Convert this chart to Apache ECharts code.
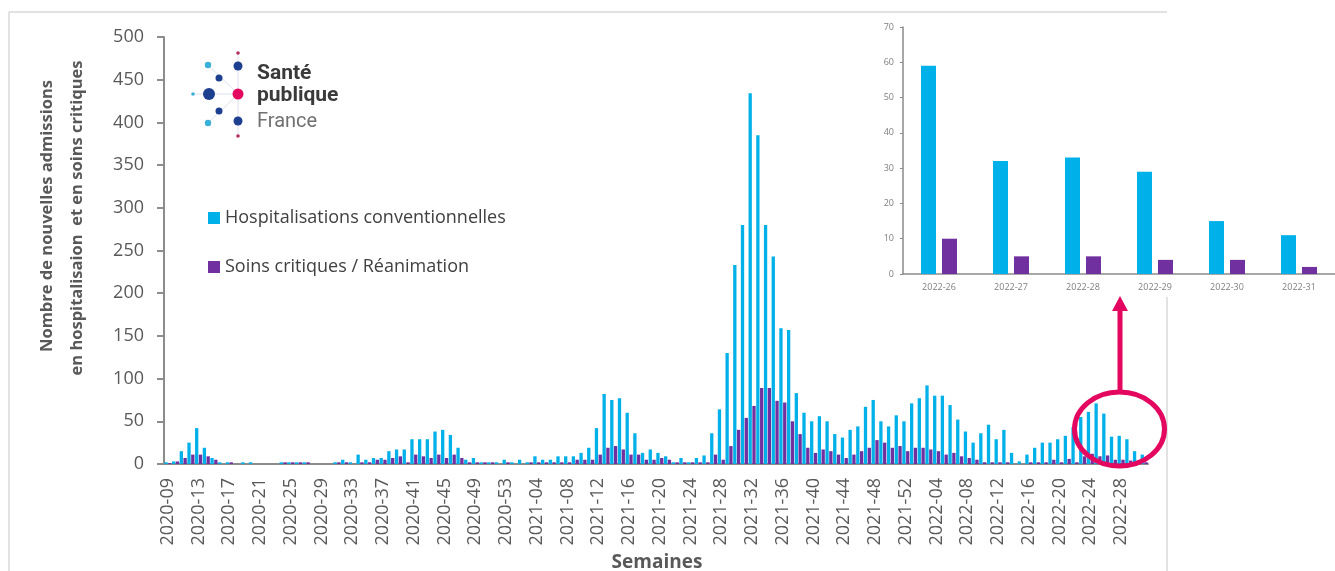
<!DOCTYPE html>
<html>
<head>
<meta charset="utf-8">
<script src="https://cdn.jsdelivr.net/npm/echarts@6/dist/echarts.min.js"></script>
<style>
html,body{margin:0;padding:0;background:#fff;}
#chart{width:1335px;height:571px;}
</style>
</head>
<body>
<div id="chart"></div>
<script>
// ---- categories (weeks 2020-09 .. 2022-31)
function pad(n){return n<10?'0'+n:''+n;}
const categories = [];
for (let w = 9; w <= 53; w++) categories.push('2020-' + pad(w));
for (let w = 1; w <= 52; w++) categories.push('2021-' + pad(w));
for (let w = 1; w <= 31; w++) categories.push('2022-' + pad(w));

// ---- series values
const hospConv = [
  2,3,15,25,42,19,7,2,2,0,
  2,2,0,0,0,2,2,2,2,0,
  0,0,2,5,2,11,5,7,7,15,
  17,17,29,29,29,38,40,34,19,5,
  7,2,2,2,5,2,5,2,9,5,
  5,9,9,9,13,19,42,82,75,77,
  60,36,13,17,13,9,2,7,2,7,
  10,36,64,130,233,280,434,385,280,243,
  159,157,83,60,50,56,50,35,31,40,
  44,67,75,50,44,57,50,71,77,92,
  80,80,69,52,38,25,36,46,29,40,
  13,3,11,19,25,25,29,33,43,55,
  61,71,59,32,33,29,15,11
];
const soinsCrit = [
  1,3,7,11,11,9,5,0,2,0,
  0,0,0,0,0,2,2,2,2,0,
  0,0,2,2,0,2,2,5,5,7,
  9,2,11,9,7,11,7,11,7,2,
  2,2,2,0,2,0,0,2,2,2,
  2,2,2,5,5,5,11,19,21,17,
  11,11,5,5,7,5,2,2,2,2,
  2,11,5,21,40,54,68,89,89,74,
  72,50,35,19,13,17,15,11,7,11,
  15,19,28,25,19,21,15,19,19,17,
  15,11,13,9,7,5,2,2,2,2,
  0,0,2,2,2,5,2,6,2,9,
  12,9,10,5,5,4,4,2
];
const mainYTicks = {min: 0, max: 500, interval: 50};
const insetYTicks = {min: 0, max: 70, interval: 10};
const insetCount = 6;
const insetCats = categories.slice(-insetCount);
const insetHosp = hospConv.slice(-insetCount);
const insetCrit = soinsCrit.slice(-insetCount);

const nameHosp = 'Hospitalisations conventionnelles';
const nameCrit = 'Soins critiques / Réanimation';
const BLUE = '#00b0e8';
const PURPLE = '#7030a0';
const AXIS = '#8c8c8c';
const TXT = '#595959';
const PINK = '#e3075f';
const NAVY = '#1d3f8f';
const LBLUE = '#3ab0d8';

const chart = echarts.init(document.getElementById('chart'), null, {renderer: 'canvas'});

function dot(cx, cy, r, color){
  return {type:'circle', shape:{cx:cx, cy:cy, r:r}, style:{fill:color}, z:10, silent:true};
}
function seg(x1,y1,x2,y2,color,w){
  return {type:'line', shape:{x1:x1,y1:y1,x2:x2,y2:y2}, style:{stroke:color, lineWidth:w}, z:9, silent:true};
}

const graphics = [
  // outer frame
  seg(9, 12, 1167, 12, '#d9d9d9', 1.5),
  seg(9, 12, 9, 571, '#d9d9d9', 1.5),
  seg(1167, 297, 1167, 571, '#d9d9d9', 1.5),
  // logo connecting lines
  seg(193, 94, 238, 94, '#d3d9e8', 0.8),
  seg(238, 53, 238, 136, '#d3d9e8', 0.8),
  seg(208, 65, 238, 94, '#d3d9e8', 0.8),
  seg(208, 123, 238, 94, '#d3d9e8', 0.8),
  // logo dots
  dot(238, 53, 1.8, '#b03060'),
  dot(208, 65, 3.2, LBLUE),
  dot(238, 66, 4.5, NAVY),
  dot(219, 78, 3.5, NAVY),
  dot(193, 94, 1.8, LBLUE),
  dot(209, 94, 6, NAVY),
  dot(238, 94, 5.5, PINK),
  dot(219, 111, 3.5, NAVY),
  dot(208, 123, 3.2, LBLUE),
  dot(238, 121, 4.5, NAVY),
  dot(238, 136, 1.8, '#b03060'),
  // logo text
  {type:'text', x:257, y:74, z:10, silent:true,
   style:{text:'Santé', font:'bold 21px Roboto', fill:'#3a3a3a', align:'left', verticalAlign:'middle'}},
  {type:'text', x:257, y:96, z:10, silent:true,
   style:{text:'publique', font:'bold 21px Roboto', fill:'#3a3a3a', align:'left', verticalAlign:'middle'}},
  {type:'text', x:257, y:122, z:10, silent:true,
   style:{text:'France', font:'20px Roboto', fill:'#707070', align:'left', verticalAlign:'middle'}},
  // y-axis title (two lines)
  {type:'text', x:47, y:216, rotation:Math.PI/2, z:10, silent:true,
   style:{text:'Nombre de nouvelles admissions', font:'bold 16.5px "Open Sans"', fill:TXT, align:'center', verticalAlign:'middle'}},
  {type:'text', x:77, y:218, rotation:Math.PI/2, z:10, silent:true,
   style:{text:'en hospitalisaion  et en soins critiques', font:'bold 16.5px "Open Sans"', fill:TXT, align:'center', verticalAlign:'middle'}},
  // x-axis title
  {type:'text', x:657, y:563, z:10, silent:true,
   style:{text:'Semaines', font:'bold 19px "Open Sans"', fill:TXT, align:'center', verticalAlign:'middle'}},
  // pink highlight circle and arrow
  {type:'ellipse', shape:{cx:1119.5, cy:429, rx:45, ry:37}, style:{fill:'none', stroke:PINK, lineWidth:5}, z:20, silent:true},
  seg(1120, 393, 1120, 309, PINK, 5),
  {type:'polygon', shape:{points:[[1112,311],[1128,311],[1120,296]]}, style:{fill:PINK}, z:20, silent:true}
];

const option = {
  animation: false,
  backgroundColor: '#ffffff',
  textStyle: {fontFamily: '"Open Sans", sans-serif'},
  grid: [
    {left: 164, top: 37, width: 984, height: 427},
    {left: 903, top: 27, width: 440, height: 247}
  ],
  legend: {
    orient: 'vertical', left: 203, top: 204,
    itemWidth: 12, itemHeight: 12, itemGap: 31, icon: 'rect',
    textStyle: {fontSize: 18, color: '#404040', fontFamily: '"Open Sans"'},
    data: [nameHosp, nameCrit]
  },
  xAxis: [
    {gridIndex: 0, type: 'category', data: categories,
     axisLine: {lineStyle: {color: AXIS, width: 2}},
     axisTick: {interval: 3, length: 6, lineStyle: {color: AXIS, width: 2}},
     axisLabel: {interval: 3, rotate: 90, fontSize: 18, color: TXT, margin: 14}},
    {gridIndex: 1, type: 'category', data: insetCats,
     axisLine: {lineStyle: {color: '#8a8a8a', width: 1.5}},
     axisTick: {length: 3, lineStyle: {color: '#8a8a8a'}},
     axisLabel: {fontSize: 9, color: '#7f7f7f', margin: 9}}
  ],
  yAxis: [
    {gridIndex: 0, type: 'value', min: mainYTicks.min, max: mainYTicks.max, interval: mainYTicks.interval,
     axisLine: {show: true, lineStyle: {color: AXIS, width: 2}},
     axisTick: {show: true, length: 7, lineStyle: {color: AXIS, width: 2}},
     splitLine: {show: false},
     axisLabel: {fontSize: 18, color: TXT, margin: 20}},
    {gridIndex: 1, type: 'value', min: insetYTicks.min, max: insetYTicks.max, interval: insetYTicks.interval,
     axisLine: {show: true, lineStyle: {color: '#8a8a8a', width: 1.5}},
     axisTick: {show: true, length: 3, lineStyle: {color: '#8a8a8a'}},
     splitLine: {show: false},
     axisLabel: {fontSize: 9, color: '#7f7f7f', margin: 9}}
  ],
  series: [
    {name: nameHosp, type: 'bar', xAxisIndex: 0, yAxisIndex: 0, data: hospConv,
     barWidth: 3.3, barGap: '15%', itemStyle: {color: BLUE}},
    {name: nameCrit, type: 'bar', xAxisIndex: 0, yAxisIndex: 0, data: soinsCrit,
     barWidth: 3.3, barGap: '15%', itemStyle: {color: PURPLE}},
    {name: nameHosp, type: 'bar', xAxisIndex: 1, yAxisIndex: 1, data: insetHosp,
     barWidth: 15, barGap: '40%', itemStyle: {color: BLUE}},
    {name: nameCrit, type: 'bar', xAxisIndex: 1, yAxisIndex: 1, data: insetCrit,
     barWidth: 15, barGap: '40%', itemStyle: {color: PURPLE}}
  ],
  graphic: graphics
};
chart.setOption(option);
</script>
</body>
</html>
